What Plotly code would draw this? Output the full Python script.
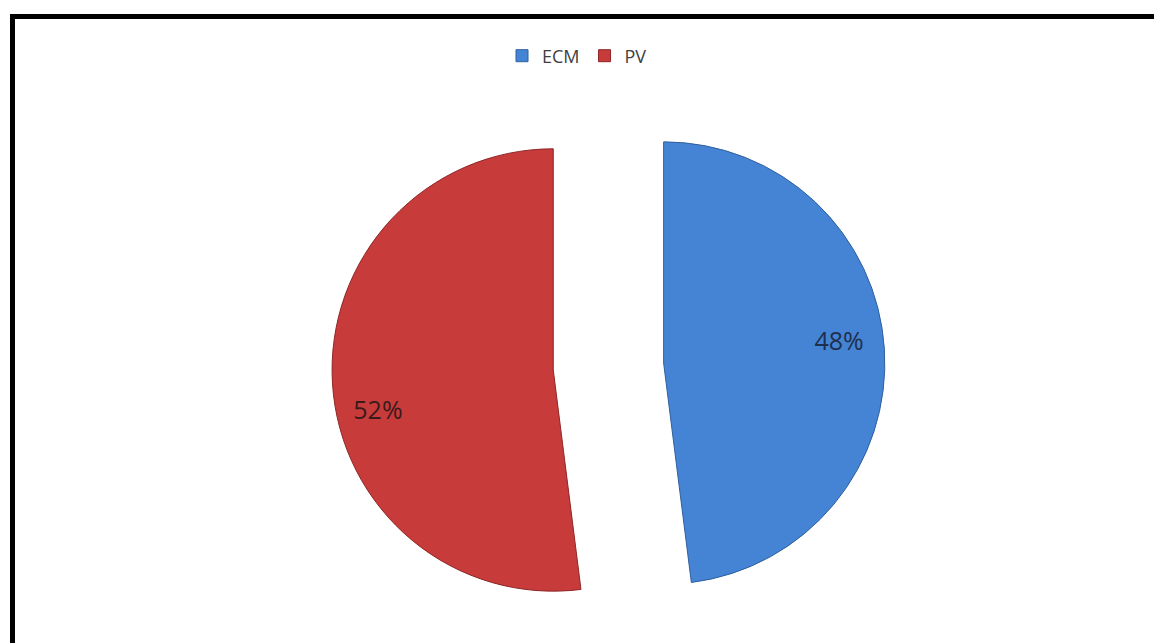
import plotly.graph_objects as go

# Share of each system
labels = ["ECM", "PV"]
shares = [48, 52]

slice_colors = ["#4584D4", "#C73B3B"]
edge_colors = ["#2F5F9E", "#8E2626"]
text_colors = ["#1E2F4C", "#3A1A1A"]

# Non-breaking padding nudges each percentage label toward the rim of its slice
NB = "\u00a0"
label_templates = [
    NB * 20 + "%{percent:.0%}<br>" + NB,
    NB + "<br>" + NB + "<br>%{percent:.0%}" + NB * 20,
]

fig = go.Figure(
    go.Pie(
        labels=labels,
        values=shares,
        sort=False,
        direction="clockwise",
        rotation=0,
        pull=[0.25, 0.25],
        texttemplate=label_templates,
        textposition="inside",
        insidetextorientation="horizontal",
        textfont=dict(family="Open Sans", size=25, color=text_colors),
        marker=dict(colors=slice_colors, line=dict(color=edge_colors, width=1)),
        domain=dict(x=[0.285, 0.7695], y=[0.0, 0.86]),
        hoverinfo="label+percent",
    )
)

fig.update_layout(
    width=1154,
    height=643,
    margin=dict(l=0, r=0, t=0, b=0),
    paper_bgcolor="white",
    plot_bgcolor="white",
    showlegend=True,
    legend=dict(
        orientation="h",
        x=0.5,
        xanchor="center",
        y=1 - 56 / 643,
        yanchor="middle",
        font=dict(family="Open Sans", size=18, color="#404040"),
        itemwidth=30,
        tracegroupgap=0,
    ),
    shapes=[
        # frame: top and left edges
        dict(type="line", xref="paper", yref="paper", x0=12.5 / 1154, x1=1.0,
             y0=1 - 16.5 / 643, y1=1 - 16.5 / 643, line=dict(color="black", width=5)),
        dict(type="line", xref="paper", yref="paper", x0=12.5 / 1154, x1=12.5 / 1154,
             y0=0.0, y1=1 - 14 / 643, line=dict(color="black", width=5)),
    ],
)

fig.write_html("out.html")
